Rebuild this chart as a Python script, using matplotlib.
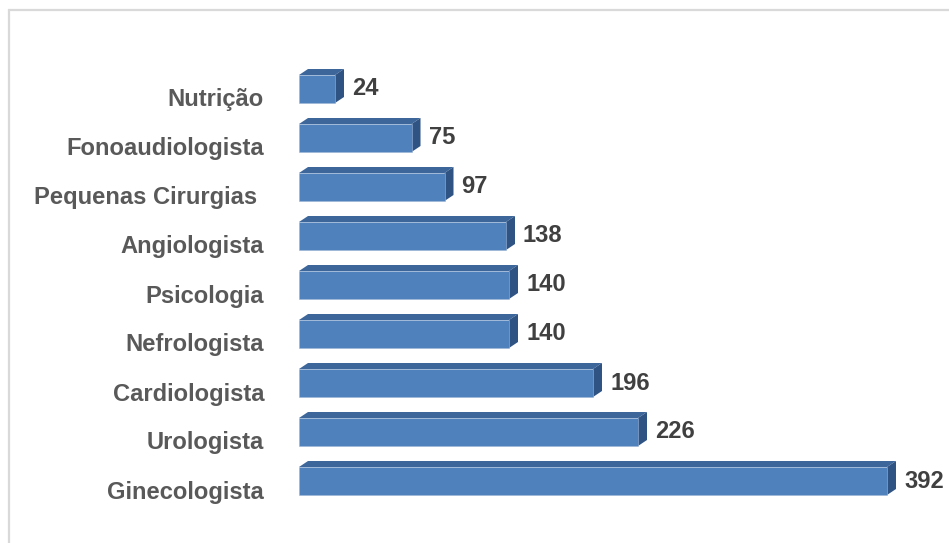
import matplotlib.pyplot as plt
from matplotlib.patches import Polygon, Rectangle

# Data (bottom to top)
categories = ['Ginecologista', 'Urologista', 'Cardiologista', 'Nefrologista',
              'Psicologia', 'Angiologista', 'Pequenas Cirurgias ', 'Fonoaudiologista',
              'Nutrição']
values = [392, 226, 196, 140, 140, 138, 97, 75, 24]

W, H = 949, 543
fig = plt.figure(figsize=(W / 100, H / 100), dpi=100)
fig.patch.set_facecolor('white')

# light frame round the chart
fig.patches.append(Rectangle((8.5 / W, -0.05), 1.1, (H - 10) / H + 0.05,
                             transform=fig.transFigure, fill=False,
                             edgecolor='#D9D9D9', linewidth=1.6))

# axes in pixel terms
left_px, right_px = 299, 945
top_px, bot_px = 40, 530
ax = fig.add_axes([left_px / W, (H - bot_px) / H, (right_px - left_px) / W, (bot_px - top_px) / H])

px_per_unit_x = 1.5
row_px = 49.0
first_center_px = 481.0
xmax = (right_px - left_px) / px_per_unit_x
ax.set_xlim(0, xmax)
ax.set_ylim((first_center_px - bot_px) / row_px, (first_center_px - top_px) / row_px)
ax.axis('off')

front = '#4F81BD'
top_c = '#3D679B'
side_c = '#2F5383'
bar_h = 28 / row_px
dx = 9 / px_per_unit_x
dy = 6 / row_px
label_drop = 11 / row_px  # category labels sit a little below the bars

ypos = list(range(len(categories)))
ax.barh(ypos, values, height=bar_h, color=front, edgecolor='#9DB5D6', linewidth=0.4, zorder=3)
for y, v in zip(ypos, values):
    yt = y + bar_h / 2
    yb = y - bar_h / 2
    ax.add_patch(Polygon([(0, yt), (dx, yt + dy), (v + dx, yt + dy), (v, yt)],
                         closed=True, facecolor=top_c, edgecolor='none', zorder=2))
    ax.add_patch(Polygon([(v, yb), (v, yt), (v + dx, yt + dy), (v + dx, yb + dy)],
                         closed=True, facecolor=side_c, edgecolor='none', zorder=2))
    ax.text(v + dx + 8 / px_per_unit_x, y, str(v), ha='left', va='center',
            fontsize=17.1, fontweight='bold', color='#404040', family='Liberation Sans')
    ax.text(-35 / px_per_unit_x, y - label_drop, categories[y], ha='right', va='center',
            fontsize=17.1, fontweight='bold', color='#595959', family='Liberation Sans',
            clip_on=False)

fig.savefig('out.png', dpi=100)
